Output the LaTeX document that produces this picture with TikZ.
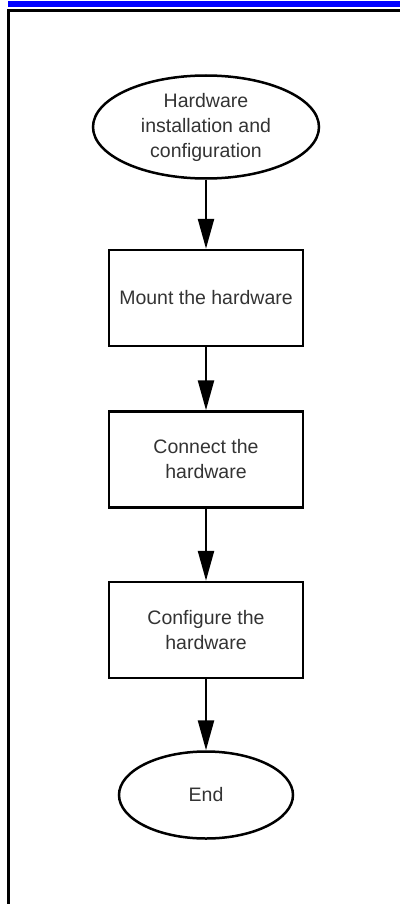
\documentclass[tikz,border=0pt]{standalone}
\usepackage{fontspec}
\setmainfont{Liberation Sans}
\usetikzlibrary{arrows.meta, positioning, shapes.geometric}

\tikzset{
  flow/.style={-{Triangle[length=30pt,width=16pt]}, line width=2.5pt},
  stepbox/.style={draw, line width=2.5pt, minimum width=194pt, minimum height=96pt,
    align=center, text=black!80, font=\fontsize{19.5}{25}\selectfont},
  terminal/.style={draw, ellipse, line width=2.5pt, inner sep=0pt,
    align=center, text=black!80, font=\fontsize{19.5}{25}\selectfont}
}

\begin{document}
\begin{tikzpicture}[x=1pt, y=1pt]
  \useasboundingbox (0,0) rectangle (400,-904);
  % page frame
  \fill[blue] (8,-1) rectangle (400,-7);
  \fill (7,-9) rectangle (400,-12);
  \fill (7,-9) rectangle (10,-904);

  \node[terminal, minimum width=226pt, minimum height=103pt] (start) at (206,-127)
    {Hardware\\installation and\\configuration};
  \node[stepbox, below=69pt of start] (mount) {Mount the hardware};
  \node[stepbox, below=63pt of mount] (connect) {Connect the\\hardware};
  \node[stepbox, below=72pt of connect] (configure) {Configure the\\hardware};
  \node[terminal, minimum width=174pt, minimum height=87pt, below=71pt of configure] (finish) {End};

  \foreach \a/\b in {start/mount, mount/connect, connect/configure, configure/finish}
    \draw[flow] (\a) -- (\b);
\end{tikzpicture}
\end{document}
